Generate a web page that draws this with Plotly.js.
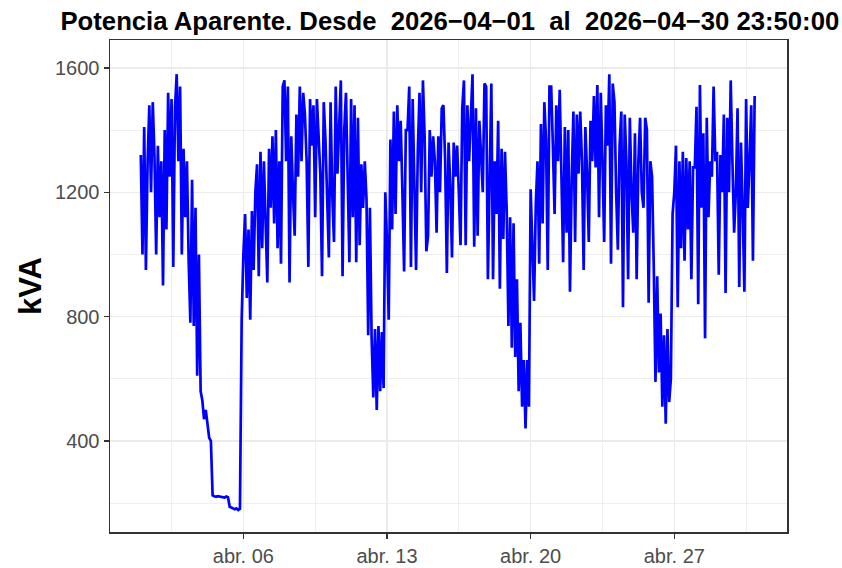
<!DOCTYPE html>
<html lang="es">
<head>
    <meta charset="UTF-8">
    <title>Potencia Aparente</title>
    <script src="https://cdn.plot.ly/plotly-3.0.1.min.js"></script>
    <style>
        body { margin: 0; background: #ffffff; }
        #chart { width: 842px; height: 568px; }
    </style>
</head>
<body>
    <div id="chart"></div>
    <script>
        // kVA leídos cada 2 horas (00:00, 02:00 ... 22:00), una semana por lista
        const semana1 = [
            1320, 1000, 1410, 950, 1300, 1480, 1200, 1490, 1320, 1000, 1350, 1120,   // abr 01
            1300, 900, 1400, 1080, 1520, 1250, 1500, 960, 1470, 1580, 1300, 1540,    // abr 02
            1000, 1340, 1120, 1300, 980, 780, 1240, 770, 1150, 610, 1000, 560,       // abr 03
            530, 470, 500, 450, 410, 400, 225, 222, 220, 222, 221, 220,              // abr 04
            220, 218, 221, 219, 188, 185, 182, 180, 183, 178, 182, 790,              // abr 05
            1000, 1130, 860, 1080, 790, 1140, 950, 1200, 1290, 930, 1330, 1020,      // abr 06
            1300, 1100, 910, 1340, 1150, 1380, 1100, 1400, 1020, 1300, 970, 1540     // abr 07
        ];
        const semana2 = [
            1560, 1300, 1540, 910, 1380, 1200, 1060, 1450, 1250, 1540, 1300, 1520,   // abr 08
            1450, 1300, 960, 1500, 1350, 1480, 1120, 1500, 1380, 1260, 930, 1490,    // abr 09
            1370, 1200, 990, 1490, 1190, 1040, 1540, 1260, 1440, 1560, 930, 1400,    // abr 10
            1520, 1280, 975, 1500, 1120, 1480, 975, 1440, 1030, 1290, 1150, 1300,    // abr 11
            1180, 740, 1150, 730, 540, 760, 500, 770, 560, 750, 570, 1200,           // abr 12
            1040, 790, 1370, 1080, 1460, 1130, 1480, 1300, 1430, 1200, 945, 1400,    // abr 13
            1400, 1540, 960, 1500, 1270, 950, 1330, 1520, 1200, 1560, 1380, 1010     // abr 14
        ];
        const semana3 = [
            1060, 1400, 1250, 1380, 1300, 1070, 1380, 1200, 1470, 1480, 1300, 940,   // abr 15
            1360, 1220, 990, 1360, 1250, 1350, 1200, 1030, 1470, 1560, 1030, 1480,   // abr 16
            1300, 1450, 1580, 1025, 1470, 1060, 1430, 1320, 1200, 1550, 1540, 920,   // abr 17
            1300, 1550, 920, 1300, 1130, 1430, 890, 1340, 1050, 1330, 1140, 770,     // abr 18
            1120, 700, 1100, 670, 920, 560, 780, 510, 660, 440, 660, 510,            // abr 19
            1210, 1000, 850, 1160, 1300, 970, 1420, 1100, 1490, 1370, 950, 1540,     // abr 20
            1540, 1350, 1130, 1480, 1300, 1530, 1250, 975, 1410, 1070, 1400, 880     // abr 21
        ];
        const semana4 = [
            1240, 1460, 1040, 1450, 1260, 1460, 1300, 950, 1410, 1260, 1040, 1430,   // abr 22
            1300, 1510, 1280, 1545, 1120, 1520, 1300, 1040, 1480, 1350, 1580, 970,   // abr 23
            1550, 1490, 1200, 1015, 1350, 1460, 830, 1450, 1300, 920, 1440, 1200,    // abr 24
            1070, 1390, 920, 1300, 1440, 1200, 1150, 1440, 1400, 845, 1300, 1250,    // abr 25
            960, 590, 930, 620, 810, 510, 740, 455, 760, 525, 600, 1130,             // abr 26
            1200, 1350, 830, 1300, 1020, 1330, 980, 1310, 1080, 1300, 920, 1280,     // abr 27
            1280, 1475, 840, 1545, 1150, 1390, 730, 1440, 1120, 1300, 1250, 1540     // abr 28
        ];
        const semana5 = [
            1300, 1330, 935, 1320, 1200, 1450, 876, 1440, 1200, 1560, 1300, 1070,    // abr 29
            1200, 1470, 895, 1360, 1150, 880, 1500, 1150, 1300, 1480, 980, 1510      // abr 30
        ];

        const tickFechas = ['2026-04-06', '2026-04-13', '2026-04-20', '2026-04-27'];
        const tickTextos = ['abr. 06', 'abr. 13', 'abr. 20', 'abr. 27'];
        const yTicks = [400, 800, 1200, 1600];

        const kva = [].concat(semana1, semana2, semana3, semana4, semana5);

        // marcas de tiempo: 2026-04-01 00:00 en pasos de 2 h
        const fechas = kva.map((v, i) => {
            const dia = Math.floor(i / 12) + 1;
            const hora = (i % 12) * 2;
            const pad = n => String(n).padStart(2, '0');
            return `2026-04-${pad(dia)} ${pad(hora)}:00`;
        });

        const nb = '\u00A0';
        const titulo = `Potencia Aparente. Desde ${nb}2026−04−01 ${nb}al ${nb}2026−04−30 23:50:00`;

        const data = [{
            x: fechas,
            y: kva,
            type: 'scatter',
            mode: 'lines',
            line: { color: '#0000FF', width: 2.7 },
            hoverinfo: 'skip'
        }];

        const fuente = 'Liberation Sans, Arial, sans-serif';

        const layout = {
            width: 842,
            height: 568,
            margin: { l: 110, r: 55, t: 40, b: 36 },
            paper_bgcolor: '#ffffff',
            plot_bgcolor: '#ffffff',
            showlegend: false,
            font: { family: fuente, color: '#4D4D4D' },
            title: {
                text: '<b>' + titulo + '</b>',
                font: { family: fuente, size: 25.7, color: '#000000' },
                x: 0.502, xref: 'paper', xanchor: 'center',
                y: 0.963, yref: 'container', yanchor: 'middle'
            },
            xaxis: {
                type: 'date',
                range: ['2026-03-30 12:00', '2026-05-02 11:50'],
                tickmode: 'array',
                tickvals: tickFechas,
                ticktext: tickTextos,
                tickfont: { size: 20, color: '#4D4D4D' },
                ticks: 'outside', ticklen: 5, tickwidth: 1.5, tickcolor: '#333333',
                showline: true, linecolor: '#333333', linewidth: 1.5, mirror: true,
                showgrid: true, gridcolor: '#EBEBEB', gridwidth: 1.5,
                zeroline: false,
                minor: {
                    tick0: '2026-04-02 12:00', dtick: 302400000,
                    showgrid: true, gridcolor: '#EBEBEB', gridwidth: 0.8, ticks: ''
                }
            },
            yaxis: {
                range: [107, 1690],
                tickmode: 'array',
                tickvals: yTicks,
                tickfont: { size: 20, color: '#4D4D4D' },
                ticks: 'outside', ticklen: 5, tickwidth: 1.5, tickcolor: '#333333',
                showline: true, linecolor: '#333333', linewidth: 1.5, mirror: true,
                showgrid: true, gridcolor: '#EBEBEB', gridwidth: 1.5,
                zeroline: false,
                minor: {
                    tick0: 0, dtick: 200,
                    showgrid: true, gridcolor: '#EBEBEB', gridwidth: 0.8, ticks: ''
                },
                title: {
                    text: '<b>kVA</b>',
                    font: { family: fuente, size: 31, color: '#000000' },
                    standoff: 4
                }
            }
        };

        Plotly.newPlot('chart', data, layout, { displayModeBar: false, staticPlot: true });
    </script>
</body>
</html>
